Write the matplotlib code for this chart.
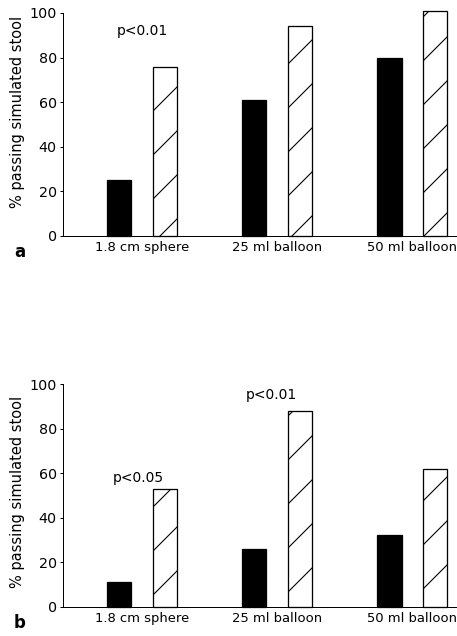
import matplotlib
matplotlib.use("Agg")
import matplotlib.pyplot as plt
import numpy as np

# данные
categories = ["1.8 cm sphere", "25 ml balloon", "50 ml balloon"]
solid_a = [25, 61, 80]
hatched_a = [76, 94, 101]
solid_b = [11, 26, 32]
hatched_b = [53, 88, 62]
ylabel = "% passing simulated stool"
yticks = [0, 20, 40, 60, 80, 100]

DPI = 132
plt.rcParams["font.family"] = "DejaVu Sans"
plt.rcParams["hatch.linewidth"] = 0.6
plt.rcParams["hatch.color"] = "black"

fig = plt.figure(figsize=(457 / DPI, 636 / DPI), dpi=DPI)
ax_a = fig.add_axes([63 / 457, 1 - 236 / 636, 1 - 63 / 457, 223 / 636])
ax_b = fig.add_axes([63 / 457, 1 - 606.7 / 636, 1 - 63 / 457, 222.7 / 636])

x = np.arange(len(categories))
w = 0.178
off = 0.167


def panel(ax, solid, hatched, label_y):
    ax.bar(x - off, solid, w, color="black", edgecolor="black", linewidth=0.7, clip_on=False)
    ax.bar(x + off, hatched, w, color="white", edgecolor="black", linewidth=0.7,
           hatch="/", clip_on=False)
    ax.set_xlim(-0.585, 2.333)
    ax.set_ylim(0, 100)
    ax.set_yticks(yticks)
    ax.set_xticks(x)
    ax.set_xticklabels(categories, fontsize=7.2)
    ax.tick_params(axis="x", length=0, pad=2.7)
    ax.tick_params(axis="y", length=1.6, width=0.55, pad=1.8, labelsize=7.8)
    ax.spines["top"].set_visible(False)
    ax.spines["right"].set_visible(False)
    ax.spines["left"].set_linewidth(0.55)
    ax.spines["bottom"].set_linewidth(0.55)
    ax.set_ylabel(ylabel, fontsize=8)
    ax.yaxis.set_label_coords(-0.096, label_y)


panel(ax_a, solid_a, hatched_a, 0.556)
panel(ax_b, solid_b, hatched_b, 0.515)

# p-значения
ax_a.text(0.0, 92, "p<0.01", ha="center", va="center", fontsize=7.6)
ax_b.text(-0.03, 58, "p<0.05", ha="center", va="center", fontsize=7.6)
ax_b.text(0.96, 95, "p<0.01", ha="center", va="center", fontsize=7.6)

fig.text(20 / 457, 1 - 252 / 636, "a", ha="center", va="center", fontsize=9, fontweight="bold")
fig.text(20 / 457, 1 - 623 / 636, "b", ha="center", va="center", fontsize=9, fontweight="bold")

fig.savefig("out.png", dpi=DPI)
